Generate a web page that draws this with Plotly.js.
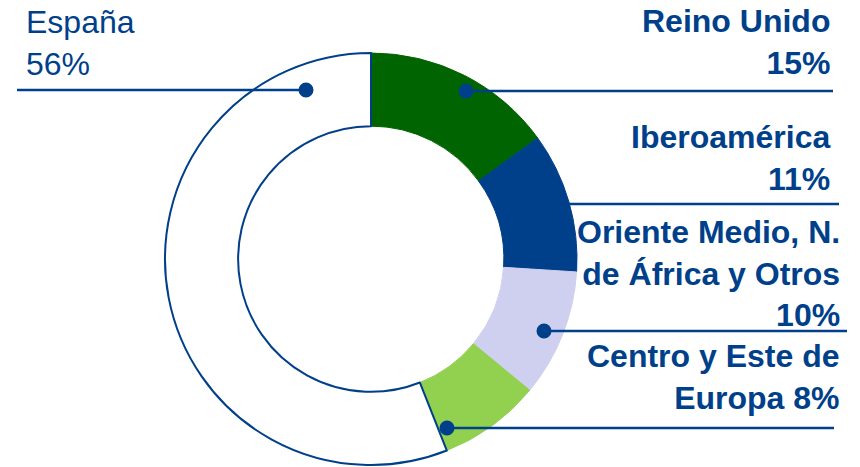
<!DOCTYPE html>
<html>
<head>
<meta charset="utf-8">
<script src="https://cdn.plot.ly/plotly-3.0.1.min.js"></script>
<style>html,body{margin:0;padding:0;background:#fff;}#chart{width:860px;height:467px;}</style>
</head>
<body>
<div id="chart"></div>
<script>
// Data
const regions = ["Reino Unido", "Iberoamérica", "Oriente Medio, N. de África y Otros", "Centro y Este de Europa", "España"];
const shares = [15, 11, 10, 8, 56];
const sliceColors = ["#006400", "#003f8a", "#cfd0ef", "#92d050", "#ffffff"];
const labelTexts = [
  "<b>Reino Unido<br>15%</b>",
  "<b>Iberoamérica<br>11%</b>",
  "<b>Oriente Medio, N.<br>de África y Otros<br>10%</b>",
  "<b>Centro y Este de<br>Europa 8%</b>",
  "España<br>56%"
];

const W = 860, H = 467;
const px = x => x / W;
const py = y => 1 - y / H;
const TXT = "#003f8a";
const FONT = "Liberation Sans, Arial, sans-serif";

// donut geometry (pixels)
const cx = 371, cy = 259, R = 206;

const trace = {
  type: "pie",
  values: shares,
  labels: regions,
  sort: false,
  direction: "clockwise",
  rotation: 0,
  hole: 0.645,
  textinfo: "none",
  hoverinfo: "label+percent",
  showlegend: false,
  domain: {x: [px(cx - R), px(cx + R)], y: [py(cy + R), py(cy - R)]},
  marker: {
    colors: sliceColors,
    line: {color: ["#006400", "#003f8a", "#cfd0ef", "#92d050", "#003f8a"], width: [1, 1, 1, 1, 2]}
  }
};

// label anchors (pixel positions)
const ann = [
  {i: 0, x: 832, y: 1, xa: "right", al: "right"},
  {i: 1, x: 832, y: 117, xa: "right", al: "right"},
  {i: 2, x: 842, y: 212, xa: "right", al: "right"},
  {i: 3, x: 842, y: 336, xa: "right", al: "right"},
  {i: 4, x: 24, y: 2, xa: "left", al: "left"}
];
const annotations = ann.map(a => ({
  xref: "paper", yref: "paper",
  x: px(a.x), y: py(a.y),
  xanchor: a.xa, yanchor: "top", align: a.al,
  showarrow: false,
  text: labelTexts[a.i],
  font: {family: FONT, size: 32, color: TXT}
}));

// leader lines and dots
const leaders = [
  {x0: 466, x1: 833, y: 91},
  {x0: 531, x1: 839, y: 204},
  {x0: 544, x1: 847, y: 331},
  {x0: 447, x1: 834, y: 428},
  {x0: 17, x1: 306, y: 90, dotAt: "end"}
];
const shapes = [];
leaders.forEach(l => {
  shapes.push({type: "line", xref: "paper", yref: "paper",
    x0: px(l.x0), x1: px(l.x1), y0: py(l.y), y1: py(l.y),
    line: {color: TXT, width: 2.5}});
  const dx = l.dotAt === "end" ? l.x1 : l.x0;
  const r = 7.5;
  shapes.push({type: "circle", xref: "paper", yref: "paper",
    x0: px(dx - r), x1: px(dx + r), y0: py(l.y + r), y1: py(l.y - r),
    fillcolor: TXT, line: {color: TXT, width: 0}});
});

const layout = {
  width: W, height: H,
  margin: {l: 0, r: 0, t: 0, b: 0},
  paper_bgcolor: "#ffffff",
  plot_bgcolor: "#ffffff",
  showlegend: false,
  annotations: annotations,
  shapes: shapes
};

Plotly.newPlot("chart", [trace], layout, {displayModeBar: false, staticPlot: true});
</script>
</body>
</html>
